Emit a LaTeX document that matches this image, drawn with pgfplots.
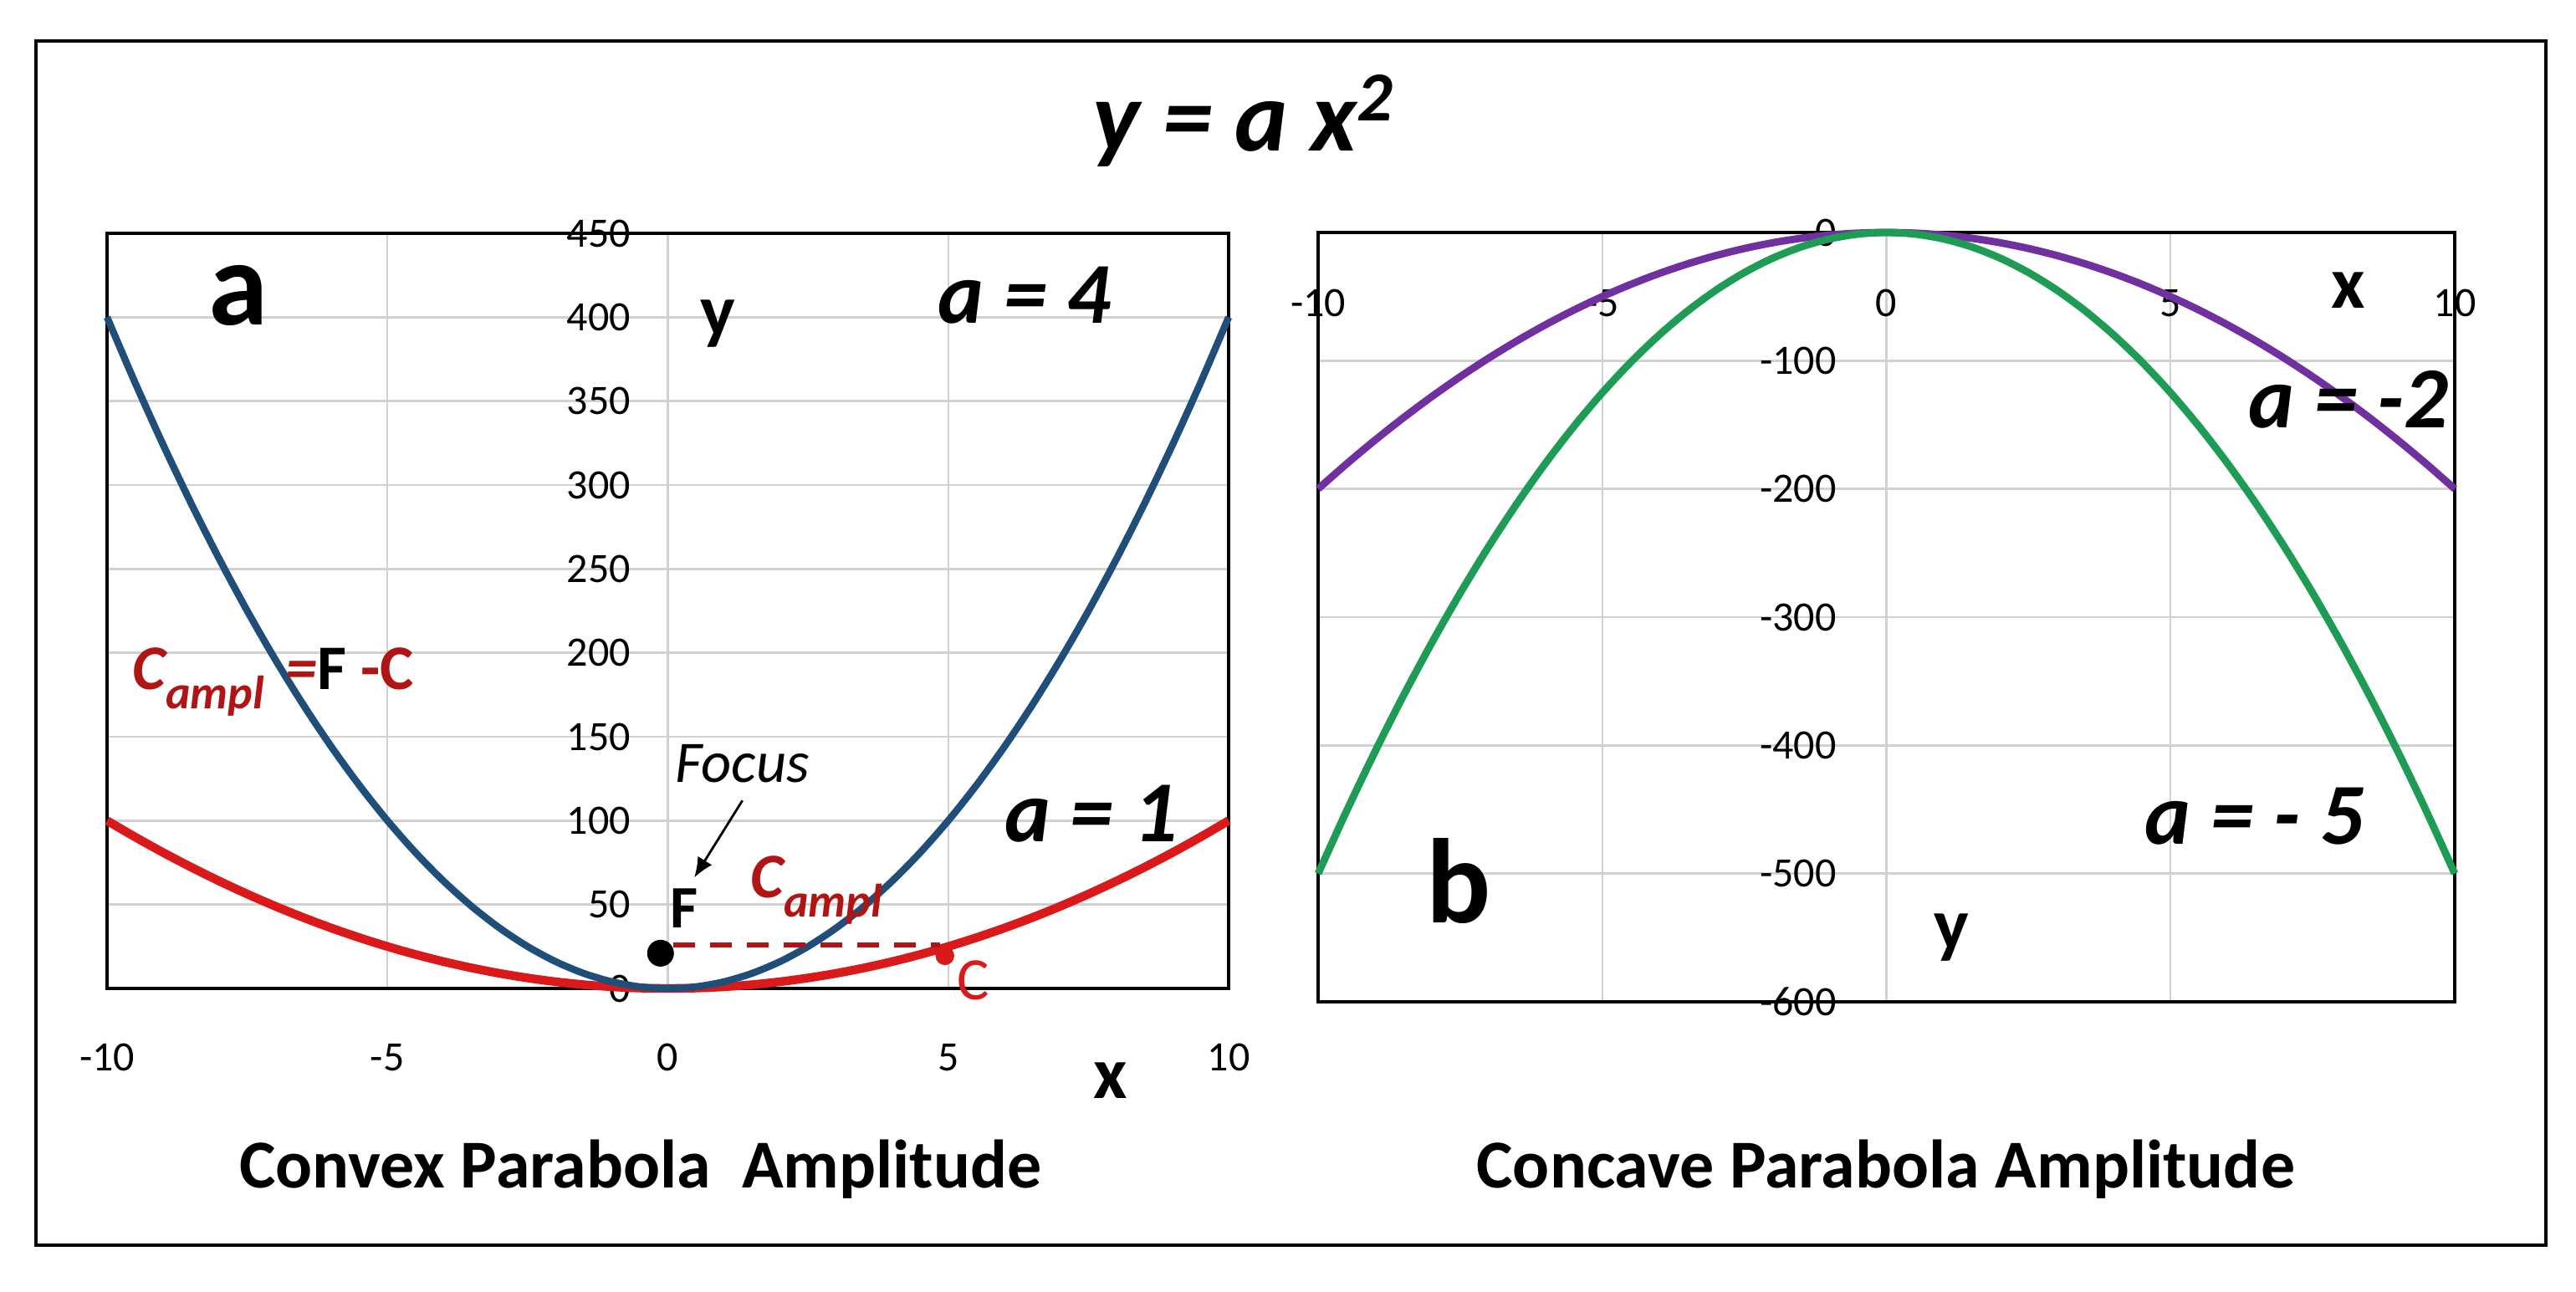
\documentclass[border=0pt]{standalone}
\usepackage{fontspec}
\setmainfont{Carlito}
\usepackage{pgfplots}
\usepackage{pgfplotstable}
\usetikzlibrary{arrows.meta}
\pgfplotsset{compat=1.18}
\definecolor{cblue}{HTML}{1F4E79}
\definecolor{cred}{HTML}{DA1A1A}
\definecolor{cdred}{HTML}{B01515}
\definecolor{cpurple}{HTML}{7030A0}
\definecolor{cgreen}{HTML}{1E9B55}
\pgfplotstableread{
x a1 a4 am2 am5
-10 100 400 -200 -500
-9.5 90.25 361 -180.5 -451.25
-9 81 324 -162 -405
-8.5 72.25 289 -144.5 -361.25
-8 64 256 -128 -320
-7.5 56.25 225 -112.5 -281.25
-7 49 196 -98 -245
-6.5 42.25 169 -84.5 -211.25
-6 36 144 -72 -180
-5.5 30.25 121 -60.5 -151.25
-5 25 100 -50 -125
-4.5 20.25 81 -40.5 -101.25
-4 16 64 -32 -80
-3.5 12.25 49 -24.5 -61.25
-3 9 36 -18 -45
-2.5 6.25 25 -12.5 -31.25
-2 4 16 -8 -20
-1.5 2.25 9 -4.5 -11.25
-1 1 4 -2 -5
-0.5 0.25 1 -0.5 -1.25
0 0 0 0 0
0.5 0.25 1 -0.5 -1.25
1 1 4 -2 -5
1.5 2.25 9 -4.5 -11.25
2 4 16 -8 -20
2.5 6.25 25 -12.5 -31.25
3 9 36 -18 -45
3.5 12.25 49 -24.5 -61.25
4 16 64 -32 -80
4.5 20.25 81 -40.5 -101.25
5 25 100 -50 -125
5.5 30.25 121 -60.5 -151.25
6 36 144 -72 -180
6.5 42.25 169 -84.5 -211.25
7 49 196 -98 -245
7.5 56.25 225 -112.5 -281.25
8 64 256 -128 -320
8.5 72.25 289 -144.5 -361.25
9 81 324 -162 -405
9.5 90.25 361 -180.5 -451.25
10 100 400 -200 -500
}\parabolas
\newcommand{\fs}[1]{\fontsize{#1}{#1}\selectfont}
\begin{document}
\begin{tikzpicture}
\useasboundingbox (0,0) rectangle (770pt,386pt);
\fill[white] (0,0) rectangle (770pt,386pt);
\draw[line width=1.1pt] (10.75pt,13.75pt) rectangle (761pt,373.75pt);
\node at (371.7pt,350pt) {\fs{30}\bfseries\itshape y = a x\textsuperscript{2}};
\node at (191.5pt,36.4pt) {\fs{20.5}\bfseries Convex Parabola\ \ Amplitude};
\node at (563.7pt,36.4pt) {\fs{20.5}\bfseries Concave Parabola Amplitude};
% left axis
\begin{axis}[
  at={(32pt,90.5pt)}, anchor=south west,
  width=335.25pt, height=225.75pt, scale only axis,
  xmin=-10, xmax=10, ymin=0, ymax=450,
  xtick={-10,-5,0,5,10}, ytick={0,50,...,450},
  grid=major, grid style={black!18, line width=0.6pt},
  major tick length=0pt,
  axis line style={black, line width=0.8pt},
  tick label style={font=\fs{12.5}},
  xticklabel style={yshift=-13pt},
  yticklabel style={xshift=160pt},
  clip=false,
  /pgf/number format/assume math mode=true,
]
\addplot[cred, line width=2.6pt, smooth] table[x=x, y=a1] {\parabolas};
\addplot[cblue, line width=2.1pt, smooth] table[x=x, y=a4] {\parabolas};
\addplot[cdred, line width=1.5pt, dash pattern=on 6.5pt off 4.5pt] coordinates {(0.1,26) (4.85,26)};
\addplot[only marks, mark=*, mark size=3.8pt, black] coordinates {(-0.13,21)};
\addplot[only marks, mark=*, mark size=2.6pt, cred, mark options={draw=cred}] coordinates {(4.94,19.5)};
\draw[-{Latex[length=6pt,width=5pt]}, line width=0.7pt] (axis cs:1.33,112) -- (axis cs:0.47,66);
\node at (axis cs:-7.66,413) {\fs{36}\bfseries a};
\node at (axis cs:0.89,396) {\fs{22}\bfseries y};
\node at (axis cs:6.36,413) {\fs{26}\bfseries\itshape a = 4};
\node at (axis cs:7.55,104) {\fs{26}\bfseries\itshape a = 1};
\node at (axis cs:1.33,134) {\fs{17.6}\itshape Focus};
\node at (axis cs:0.29,48) {\fs{18}\bfseries F};
\node[anchor=base west, inner sep=0pt] at (axis cs:1.47,54) {\fs{19}\bfseries\itshape\color{cdred}C\raisebox{-0.3em}{\fs{14}ampl}};
\node[anchor=base west, inner sep=0pt] at (axis cs:-9.55,178) {\fs{19}\bfseries\itshape\color{cdred}C\raisebox{-0.3em}{\fs{14}ampl}\,\,=\upshape\color{black}F \color{cdred}-C};
\node at (axis cs:5.45,5) {\fs{18}\color{cred}C};
\node at (axis cs:7.9,-55) {\fs{22}\bfseries x};
\end{axis}
% right axis
\begin{axis}[
  at={(394pt,86.5pt)}, anchor=south west,
  width=339.75pt, height=230pt, scale only axis,
  xmin=-10, xmax=10, ymin=-600, ymax=0,
  xtick={-10,-5,0,5,10}, ytick={-600,-500,...,0},
  grid=major, grid style={black!18, line width=0.6pt},
  major tick length=0pt,
  axis line style={black, line width=0.8pt},
  tick label style={font=\fs{12.5}},
  xticklabel style={yshift=216.5pt},
  yticklabel style={xshift=158.4pt},
  clip=false,
  /pgf/number format/assume math mode=true,
]
\addplot[cpurple, line width=2.2pt, smooth] table[x=x, y=am2] {\parabolas};
\addplot[cgreen, line width=2.2pt, smooth] table[x=x, y=am5] {\parabolas};
\node at (axis cs:8.13,-45) {\fs{22}\bfseries x};
\node at (axis cs:8.13,-130) {\fs{26}\bfseries\itshape a = -2};
\node at (axis cs:6.48,-455) {\fs{26}\bfseries\itshape a = - 5};
\node at (axis cs:-7.53,-506) {\fs{36}\bfseries b};
\node at (axis cs:1.15,-550) {\fs{22}\bfseries y};
\end{axis}
\end{tikzpicture}
\end{document}
